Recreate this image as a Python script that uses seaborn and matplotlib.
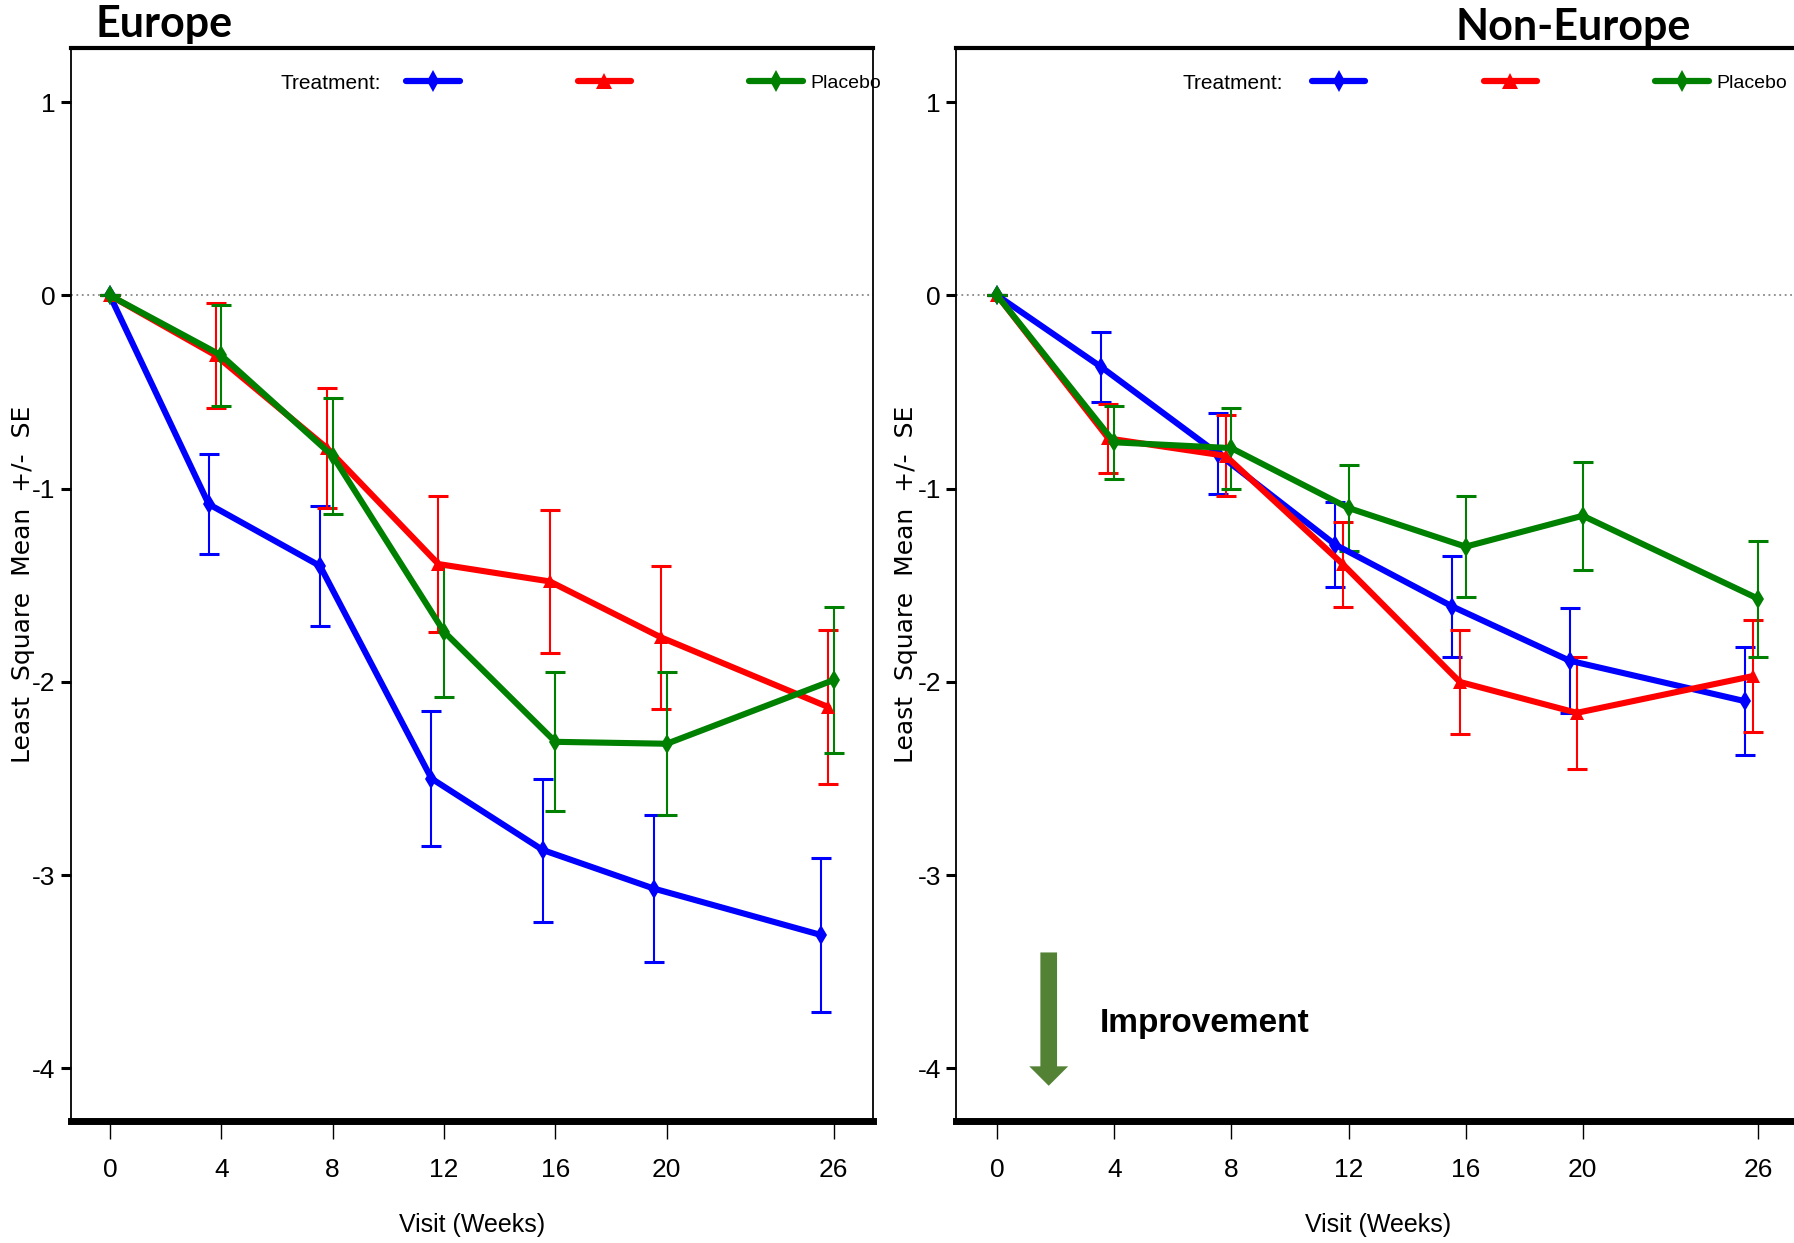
import pandas as pd
import matplotlib.pyplot as plt
import seaborn as sns
from matplotlib.lines import Line2D

# === ДАННЫЕ ===
weeks = [0, 4, 8, 12, 16, 20, 26]
groups = ['A', 'B', 'Placebo']
regions = ['Europe', 'Non-Europe']

eu_a_mean = [0, -1.08, -1.40, -2.50, -2.87, -3.07, -3.31]
eu_a_se = [0, 0.26, 0.31, 0.35, 0.37, 0.38, 0.40]
eu_b_mean = [0, -0.31, -0.79, -1.39, -1.48, -1.77, -2.13]
eu_b_se = [0, 0.27, 0.31, 0.35, 0.37, 0.37, 0.40]
eu_p_mean = [0, -0.31, -0.83, -1.74, -2.31, -2.32, -1.99]
eu_p_se = [0, 0.26, 0.30, 0.34, 0.36, 0.37, 0.38]

ne_a_mean = [0, -0.37, -0.82, -1.29, -1.61, -1.89, -2.10]
ne_a_se = [0, 0.18, 0.21, 0.22, 0.26, 0.27, 0.28]
ne_b_mean = [0, -0.74, -0.83, -1.39, -2.00, -2.16, -1.97]
ne_b_se = [0, 0.18, 0.21, 0.22, 0.27, 0.29, 0.29]
ne_p_mean = [0, -0.76, -0.79, -1.10, -1.30, -1.14, -1.57]
ne_p_se = [0, 0.19, 0.21, 0.22, 0.26, 0.28, 0.30]

legend_labels = ['', '', 'Placebo']

# === СТИЛЬ ===
COLORS = {'A': '#0000FF', 'B': '#FF0000', 'Placebo': '#008000'}
MARKERS = {'A': 'd', 'B': '^', 'Placebo': 'd'}
DODGE = {'A': -0.45, 'B': -0.2, 'Placebo': 0.0}

sns.set_theme(style='white')
plt.rcParams['font.family'] = ['Liberation Sans', 'DejaVu Sans']
plt.rcParams.update({'text.color': 'black', 'axes.labelcolor': 'black',
                     'xtick.color': 'black', 'ytick.color': 'black'})

# длинная таблица
series = {
    ('Europe', 'A'): (eu_a_mean, eu_a_se),
    ('Europe', 'B'): (eu_b_mean, eu_b_se),
    ('Europe', 'Placebo'): (eu_p_mean, eu_p_se),
    ('Non-Europe', 'A'): (ne_a_mean, ne_a_se),
    ('Non-Europe', 'B'): (ne_b_mean, ne_b_se),
    ('Non-Europe', 'Placebo'): (ne_p_mean, ne_p_se),
}
rows = []
for (reg, grp), (means, ses) in series.items():
    for w, m, s in zip(weeks, means, ses):
        rows.append({'region': reg, 'group': grp, 'week': w,
                     'x': w + (DODGE[grp] if w > 0 else 0), 'mean': m, 'se': s})
df = pd.DataFrame(rows)

fig = plt.figure(figsize=(17.94, 12.43), dpi=100)
ax_eu = fig.add_axes([0.0395, 0.0985, 0.447, 0.8628])
ax_ne = fig.add_axes([0.533, 0.0985, 0.470, 0.8628])

for ax, reg, leg_x, tr_x in [(ax_eu, 'Europe', 0.418, 0.387),
                             (ax_ne, 'Non-Europe', 0.422, 0.388)]:
    d = df[df['region'] == reg]
    ax.axhline(0, color='#888888', lw=1.3, ls=(0, (1, 2)), zorder=0)
    for grp in groups:
        g = d[d['group'] == grp]
        ax.errorbar(g['x'], g['mean'], yerr=g['se'], fmt='none', ecolor=COLORS[grp],
                    elinewidth=1.5, capsize=7, capthick=2.2, zorder=2)
    sns.lineplot(data=d, x='x', y='mean', hue='group', style='group',
                 palette=COLORS, markers=MARKERS, dashes=False, estimator=None,
                 sort=False, lw=4.4, markersize=10, markeredgewidth=0,
                 legend=False, ax=ax, zorder=3)

    ax.set_xlim(-1.4, 27.4)
    ax.set_ylim(-4.27, 1.28)
    ax.set_xticks(weeks)
    ax.set_yticks([1, 0, -1, -2, -3, -4])
    ax.set_yticklabels(['1', '0', '-1', '-2', '-3', '-4'])
    ax.tick_params(axis='x', direction='out', length=13, width=1, pad=14,
                   labelsize=19, bottom=True)
    ax.tick_params(axis='y', direction='out', length=7, width=2.2, pad=4,
                   labelsize=19, left=True)
    for s in ['left', 'right']:
        ax.spines[s].set_linewidth(1.3)
    ax.spines['top'].set_linewidth(3)
    ax.spines['bottom'].set_linewidth(5)
    for s in ax.spines.values():
        s.set_color('black')

    ax.set_xlabel('Visit (Weeks)', fontsize=18, labelpad=22)
    ax.set_ylabel('Least  Square  Mean  +/-  SE', fontsize=18,
                  family=['DejaVu Sans'])
    ax.yaxis.set_label_coords(-0.045, 0.5)

    # легенда
    handles = [Line2D([], [], color=COLORS[g], marker=MARKERS[g], lw=4.5,
                      markersize=11, markeredgewidth=0) for g in groups]
    ax.legend(handles, legend_labels, ncol=3, loc='center left',
              bbox_to_anchor=(leg_x, 0.967), frameon=False, fontsize=14,
              handlelength=2.75, handletextpad=0.4, columnspacing=5.68,
              borderpad=0, borderaxespad=0)
    ax.text(tr_x, 0.967, 'Treatment:', transform=ax.transAxes, fontsize=15,
            ha='right', va='center')

ax_ne.annotate('', xy=(1.76, -4.09), xytext=(1.76, -3.40),
               arrowprops=dict(facecolor='#548235', edgecolor='none', width=12,
                               headwidth=28, headlength=14))
ax_ne.text(3.5, -3.77, 'Improvement', fontsize=24, fontweight='bold',
           ha='left', va='center')

fig.text(0.053, 0.9705, 'Europe', fontsize=31, fontweight='bold',
         family=['Lato', 'DejaVu Sans'], ha='left', va='baseline')
fig.text(0.877, 0.968, 'Non-Europe', fontsize=31, fontweight='bold',
         family=['Lato', 'DejaVu Sans'], ha='center', va='baseline')

fig.savefig('out.png', dpi=100)
